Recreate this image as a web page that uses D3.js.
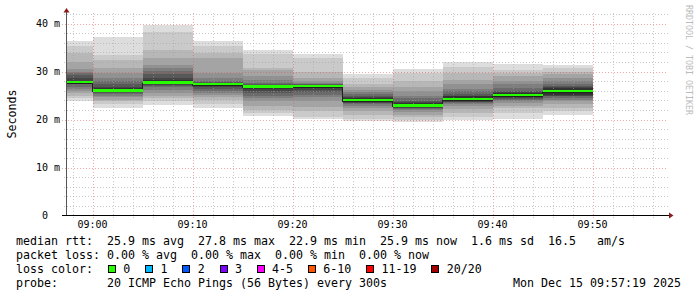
<!DOCTYPE html>
<html><head><meta charset="utf-8">
<script src="https://cdn.jsdelivr.net/npm/d3@7"></script>
<style>
body{margin:0;background:#fff}
svg{display:block}
text{font-family:"DejaVu Sans Mono",monospace;white-space:pre}
</style>
</head><body><svg id="chart" width="697" height="297"></svg>
<script>
// ---- data ----
const stepEnds = ["09:00","09:05","09:10","09:15","09:20","09:25","09:30","09:35","09:40","09:45","09:50"];
const medianRtt = [27.8, 26.0, 27.7, 27.35, 26.8, 26.9, 24.0, 22.85, 24.2, 25.06, 25.9];
const lossPct = [0,0,0,0,0,0,0,0,0,0,0];
// 20 sorted ping times (ms) per step
const smokePings = [
  [23.9,24.5,25.0,25.5,26.0,26.4,26.8,27.3,27.5,27.6, 28.1,28.6,29.2,29.7,30.0,30.6,32.0,33.9,35.3,36.4],
  [22.5,23.2,23.8,24.1,24.6,25.0,25.3,25.5,25.7,25.9, 26.5,26.8,27.3,28.0,28.7,29.7,30.8,32.5,33.5,37.2],
  [23.05,23.9,24.5,25.0,25.5,26.2,26.7,27.0,27.2,27.4, 28.2,28.7,29.4,30.1,30.8,31.4,32.8,34.5,38.3,39.7],
  [22.5,23.2,24.1,24.6,25.1,25.5,26.0,26.4,26.7,26.9, 27.6,27.7,27.8,28.0,28.6,29.6,32.8,33.9,35.4,36.4],
  [20.75,21.3,22.0,22.9,23.9,24.5,25.0,25.5,26.0,26.3, 27.0,27.1,27.3,27.6,28.3,29.0,30.4,30.8,33.6,34.4],
  [20.06,20.6,21.7,22.7,23.8,24.6,25.1,25.7,26.2,26.5, 27.1,27.2,27.3,27.4,27.6,28.0,28.6,30.0,32.9,33.6],
  [19.6,20.1,20.9,21.7,22.3,22.9,23.2,23.4,23.5,23.6, 24.4,24.6,24.8,25.3,25.7,26.1,26.8,27.5,28.7,29.4],
  [19.4,20.0,20.5,21.0,21.5,22.0,22.2,22.3,22.5,22.6, 23.4,23.6,23.9,24.5,25.0,25.9,26.8,28.0,29.6,30.5],
  [19.8,20.5,21.3,22.2,22.9,23.2,23.5,23.6,23.7,23.8, 24.8,25.0,25.3,25.9,26.4,27.3,28.3,29.7,30.9,31.9],
  [20.06,21.3,22.3,22.9,23.4,23.9,24.1,24.3,24.4,24.6, 25.5,25.7,26.0,26.6,27.3,28.1,29.0,29.7,30.4,31.5],
  [21.0,21.8,22.5,23.2,23.8,24.1,24.5,24.8,25.0,25.2, 26.5,26.7,26.9,27.4,28.0,28.7,29.4,30.0,30.7,31.3]
];
const xTickLabels = ["09:00","09:10","09:20","09:30","09:40","09:50"];
const yMajorTicks = [0,10,20,30,40];
const lossLabels = ["0","1","2","3","4-5","6-10","11-19","20/20"];
const lossColors = ["#26ff00","#00b8ff","#0059ff","#7e00ff","#ff00ff","#ff5500","#ff0000","#a10000"];
const statLines = [
  "median rtt:  25.9 ms avg  27.8 ms max  22.9 ms min  25.9 ms now  1.6 ms sd  16.5   am/s",
  "packet loss: 0.00 % avg  0.00 % max  0.00 % min  0.00 % now"
];
const probeText = "probe:       20 ICMP Echo Pings (56 Bytes) every 300s";
const dateText = "Mon Dec 15 09:57:19 2025";
const stepSec = 300;
const startTime = "08:57:19", endTime = "09:57:19";

// ---- setup ----
const svg = d3.select("#chart");
const parseT = s => { const [h,m,sec] = s.split(":").map(Number); return new Date(2025,11,15,h,m,sec||0); };
const x = d3.scaleTime().domain([parseT(startTime), parseT(endTime)]).range([65.7, 665.7]);
const y = d3.scaleLinear().domain([0, 42.2]).range([215.5, 215.5 - 4.8*42.2]);
const plotLeft = 67, plotRight = 668, plotTop = 13, plotBottom = 215.5;

svg.append("rect").attr("width",697).attr("height",297).attr("fill","#fff");

// ---- smoke ----
const smoke = svg.append("g").attr("shape-rendering","crispEdges");
smokePings.forEach((p, i) => {
  const tEnd = parseT(stepEnds[i]);
  const tStart = new Date(tEnd.getTime() - stepSec*1000);
  const x0 = Math.max(plotLeft, x(tStart)), x1 = x(tEnd);
  for (let k = 0; k < 10; k++) {
    const g = Math.floor(190/10*(10-(k+1))) + 50;
    smoke.append("rect")
      .attr("x", x0).attr("width", x1 - x0)
      .attr("y", y(p[19-k])).attr("height", y(p[k]) - y(p[19-k]))
      .attr("fill", d3.rgb(g,g,g));
  }
});

// ---- grid ----
const grid = svg.append("g").attr("shape-rendering","crispEdges");
const minorY = d3.range(2, 42.2, 2).filter(v => v % 10 !== 0);
grid.selectAll(".hmin").data(minorY).join("line")
  .attr("x1", 64).attr("x2", plotRight).attr("y1", d => Math.round(y(d))+0.5).attr("y2", d => Math.round(y(d))+0.5)
  .attr("stroke","rgba(160,160,160,0.55)").attr("stroke-dasharray","1,2");
const minorX = d3.timeMinute.every(2).range(parseT("08:58"), parseT("09:58")).filter(d => d.getMinutes() % 10 !== 0);
grid.selectAll(".vmin").data(minorX).join("line")
  .attr("x1", d => Math.round(x(d))+0.5).attr("x2", d => Math.round(x(d))+0.5)
  .attr("y1", plotTop).attr("y2", 218)
  .attr("stroke","rgba(160,160,160,0.55)").attr("stroke-dasharray","1,2");
grid.selectAll(".hmaj").data(yMajorTicks.filter(v=>v>0)).join("line")
  .attr("x1", 62).attr("x2", plotRight).attr("y1", d => Math.round(y(d))+0.5).attr("y2", d => Math.round(y(d))+0.5)
  .attr("stroke","rgba(224,80,80,0.5)").attr("stroke-dasharray","1,2");
grid.selectAll(".vmaj").data(xTickLabels.map(parseT)).join("line")
  .attr("x1", d => Math.round(x(d))+0.5).attr("x2", d => Math.round(x(d))+0.5)
  .attr("y1", plotTop).attr("y2", 218)
  .attr("stroke","rgba(224,80,80,0.5)").attr("stroke-dasharray","1,2");

// ---- median ----
const medPts = [];
medianRtt.forEach((m, i) => {
  const tEnd = parseT(stepEnds[i]);
  const tStart = new Date(tEnd.getTime() - stepSec*1000);
  medPts.push([Math.max(plotLeft, x(tStart)), m], [x(tEnd), m]);
});
svg.append("path")
  .attr("d", d3.line().x(d => d[0]).y(d => y(d[1]) + 1)(medPts))
  .attr("fill","none").attr("stroke","#202020").attr("stroke-width",1).attr("shape-rendering","crispEdges");
const lossColorFor = l => l === 0 ? lossColors[0] : l <= 5 ? lossColors[1] : lossColors[7];
svg.append("g").attr("shape-rendering","crispEdges").selectAll("rect").data(medianRtt).join("rect")
  .attr("x", (m,i) => Math.max(plotLeft, x(new Date(parseT(stepEnds[i]).getTime()-stepSec*1000))))
  .attr("width", (m,i) => x(parseT(stepEnds[i])) - Math.max(plotLeft, x(new Date(parseT(stepEnds[i]).getTime()-stepSec*1000))))
  .attr("y", m => y(m) - 1.5).attr("height", 2.5)
  .attr("fill", (m,i) => lossColorFor(lossPct[i]));

// ---- axes ----
const axes = svg.append("g").attr("shape-rendering","crispEdges");
axes.append("line").attr("x1",66.5).attr("x2",66.5).attr("y1",12).attr("y2",216).attr("stroke","#555");
axes.append("line").attr("x1",62).attr("x2",670).attr("y1",215.5).attr("y2",215.5).attr("stroke","#000");
svg.append("path").attr("d","M63.5,12.5 L66.5,8 L69.5,12.5 Z").attr("fill","#8b1a1a");
svg.append("path").attr("d","M669,212.5 L673.5,215.5 L669,218.5 Z").attr("fill","#8b1a1a");

// y labels
svg.append("g").selectAll("text").data(yMajorTicks).join("text")
  .attr("x", 60).attr("y", d => y(d) + 3.5).attr("text-anchor","end")
  .attr("font-size", 10).attr("fill","#000")
  .text(d => d === 0 ? "0  " : d + " m");
// x labels
svg.append("g").selectAll("text").data(xTickLabels).join("text")
  .attr("x", d => x(parseT(d))).attr("y", 228).attr("text-anchor","middle")
  .attr("font-size", 10).attr("fill","#000").text(d => d);

// axis title
svg.append("text").attr("transform","translate(15.5,114) rotate(-90)").attr("text-anchor","middle")
  .attr("font-size",11.63).attr("fill","#000").text("Seconds");
// watermark
svg.append("text").attr("transform","translate(685.5,5) rotate(90)")
  .attr("font-size",8.3).attr("fill","#bbb").text("RRDTOOL / TOBI OETIKER");

// ---- legend ----
const fs = 11.63, cw = 7;
statLines.forEach((s, i) => {
  svg.append("text").attr("x",16).attr("y",244.5 + 14*i).attr("font-size",fs).attr("fill","#000").text(s);
});
svg.append("text").attr("x",16).attr("y",272.5).attr("font-size",fs).attr("fill","#000").text("loss color:");
let cursor = 108.5;
lossLabels.forEach((lab, i) => {
  svg.append("rect").attr("x",cursor).attr("y",265.5).attr("width",7).attr("height",7)
    .attr("fill",lossColors[i]).attr("stroke","#000").attr("shape-rendering","crispEdges");
  svg.append("text").attr("x",cursor+14.8).attr("y",272.5).attr("font-size",fs).attr("fill","#000").text(lab);
  cursor = cursor + 14.8 + lab.length*cw + 15.4;
});
svg.append("text").attr("x",16).attr("y",286.5).attr("font-size",fs).attr("fill","#000").text(probeText);
svg.append("text").attr("x",681).attr("y",286.5).attr("text-anchor","end").attr("font-size",fs).attr("fill","#000").text(dateText);
</script>
</body></html>
